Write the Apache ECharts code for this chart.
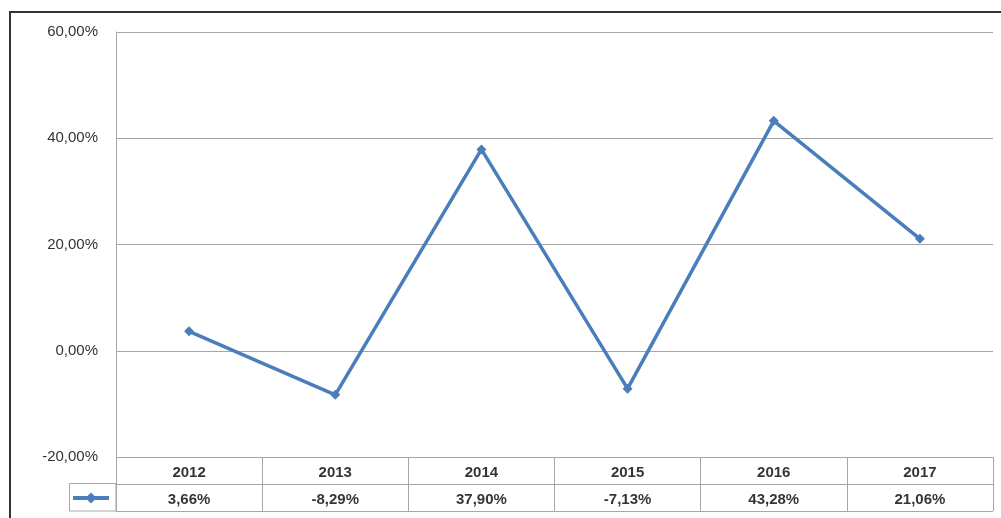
<!DOCTYPE html>
<html>
<head>
<meta charset="utf-8">
<script src="https://cdn.jsdelivr.net/npm/echarts@6/dist/echarts.min.js"></script>
<style>html,body{margin:0;padding:0;background:#fff}#c{width:1001px;height:518px}</style>
</head>
<body>
<div id="c"></div>
<script>
var categories = ['2012', '2013', '2014', '2015', '2016', '2017'];
var values = [3.66, -8.29, 37.90, -7.13, 43.28, 21.06];
var yTicks = [-20, 0, 20, 40, 60];
var seriesName = 'Variação';
var tableRows = ['header', 'values'];

function fmt(v) { return v.toFixed(2).replace('.', ',') + '%'; }

var chart = echarts.init(document.getElementById('c'));
var gridColor = '#a6a6a6';
var lineColor = '#4a7ebb';
var font = 'Liberation Sans';

var headerData = categories.map(function (c, i) { return [c, 'header', c]; });
var valueData = categories.map(function (c, i) { return [c, 'values', fmt(values[i])]; });

chart.setOption({
  animation: false,
  textStyle: { fontFamily: font },
  legend: {
    left: 71, top: 491, padding: 0,
    itemWidth: 36, itemHeight: 14,
    lineStyle: { width: 4 },
    formatter: function () { return ''; },
    data: [seriesName]
  },
  grid: [
    { left: 116, right: 8, top: 32, bottom: 61 },
    { left: 116, right: 8, top: 457, height: 54 }
  ],
  xAxis: [
    { type: 'category', gridIndex: 0, data: categories, boundaryGap: true,
      axisLine: { show: false }, axisTick: { show: false }, axisLabel: { show: false } },
    { type: 'category', gridIndex: 1, data: categories, boundaryGap: true,
      axisLine: { show: false }, axisTick: { show: false }, axisLabel: { show: false },
      splitLine: { show: true, lineStyle: { color: gridColor, width: 1 } } }
  ],
  yAxis: [
    { type: 'value', gridIndex: 0, min: yTicks[0], max: yTicks[yTicks.length - 1], interval: 20,
      axisLine: { show: true, lineStyle: { color: gridColor } }, axisTick: { show: false },
      splitLine: { lineStyle: { color: gridColor, width: 1 } },
      axisLabel: { formatter: fmt, color: '#333', fontSize: 15, margin: 18, fontFamily: font } },
    { type: 'category', gridIndex: 1, data: tableRows, inverse: true, boundaryGap: true,
      axisLine: { show: false }, axisTick: { show: false }, axisLabel: { show: false },
      splitLine: { show: true, lineStyle: { color: gridColor, width: 1 } } }
  ],
  series: [
    { name: seriesName, type: 'line', xAxisIndex: 0, yAxisIndex: 0, data: values,
      symbol: 'diamond', symbolSize: 10, showSymbol: true,
      lineStyle: { color: lineColor, width: 3.5 }, itemStyle: { color: lineColor } },
    { type: 'scatter', xAxisIndex: 1, yAxisIndex: 1, data: headerData, symbolSize: 0,
      silent: true,
      label: { show: true, position: 'inside', offset: [0, 2], color: '#000', fontWeight: 'bold', fontSize: 15,
        fontFamily: font, formatter: function (p) { return p.data[2]; } } },
    { type: 'scatter', xAxisIndex: 1, yAxisIndex: 1, data: valueData, symbolSize: 0,
      silent: true,
      label: { show: true, position: 'inside', offset: [0, 2], color: '#000', fontWeight: 'bold', fontSize: 15,
        fontFamily: font, formatter: function (p) { return p.data[2]; } } }
  ],
  graphic: [
    { type: 'polyline', shape: { points: [[10, 518], [10, 12], [1001, 12]] },
      style: { stroke: '#333', lineWidth: 2, fill: null } },
    { type: 'rect', shape: { x: 69.5, y: 483.5, width: 46.5, height: 27.5 },
      style: { stroke: gridColor, lineWidth: 1, fill: null } }
  ]
});
</script>
</body>
</html>
